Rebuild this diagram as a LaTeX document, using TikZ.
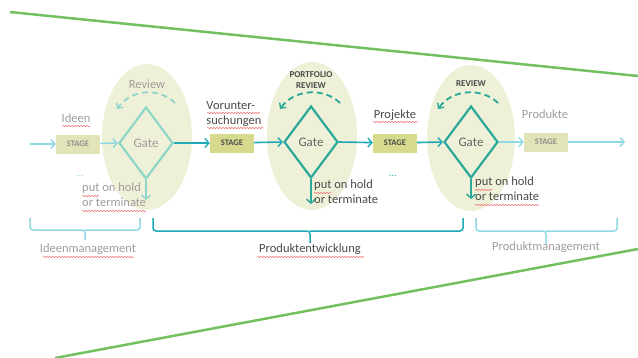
\documentclass[tikz,border=0pt]{standalone}
\usepackage{fontspec}
\setmainfont{Carlito}
\usetikzlibrary{shapes.geometric,arrows.meta,decorations.pathmorphing}
\definecolor{lcyan}{HTML}{8FD9E3}
\definecolor{tealc}{HTML}{1DA9B6}
\definecolor{tealg}{HTML}{2AA898}
\definecolor{lgate}{HTML}{8ED6C8}
\definecolor{grayt}{HTML}{A39C9C}
\definecolor{darkt}{HTML}{4A4A4A}
\definecolor{ellf}{HTML}{EFF0D8}
\definecolor{stl}{HTML}{E2E4B8}
\definecolor{std}{HTML}{D5DA8C}
\definecolor{grn}{HTML}{72C060}
\definecolor{spell}{HTML}{F07070}
\tikzset{
  x=1pt,y=-1pt,
  lbl/.style={font=\fontsize{12.5}{15}\selectfont,align=left,inner sep=0pt},
  ell/.style={ellipse,fill=ellf,minimum width=90pt,minimum height=146pt,inner sep=0pt},
  gatebox/.style={diamond,draw,line width=2.2pt,minimum width=54pt,minimum height=72pt,inner sep=0pt,aspect=0.75,font=\fontsize{13}{15}\selectfont},
  stagebox/.style={minimum width=44pt,minimum height=19pt,inner sep=0pt,font=\bfseries\fontsize{8.5}{10}\selectfont},
  arr/.style={line width=1.6pt,-{Straight Barb[length=4pt,width=9pt,line width=1.4pt]}},
  revarr/.style={line width=1.8pt,dash pattern=on 6pt off 4pt,-{Straight Barb[length=4pt,width=8pt,line width=1.4pt]}},
  brace/.style={line width=1.5pt,rounded corners=3pt},
  wavy/.style={spell,line width=0.5pt,decorate,decoration={snake,amplitude=0.7pt,segment length=3pt}},
}
\begin{document}
\begin{tikzpicture}
\useasboundingbox (0,0) rectangle (638,357);
% green lines
\draw[grn,line width=2.5pt] (10,12) -- (638,76);
\draw[grn,line width=2.5pt] (55,358) -- (638,249);
% ellipses
\node[ell] (e1) at (147,137) {};
\node[ell,minimum height=148pt] (e2) at (312,136) {};
\node[ell,minimum width=88pt] (e3) at (471,138) {};
% gates
\node[gatebox,draw=lgate,text=grayt] (g1) at (146,143) {Gate};
\node[gatebox,draw=tealg,text=darkt!85] (g2) at (311,142) {Gate};
\node[gatebox,draw=tealg,text=darkt!85] (g3) at (471,142) {Gate};
% stages
\node[stagebox,fill=stl,text=grayt!90!black] (s1) at (78,144) {STAGE};
\node[stagebox,fill=std,text=darkt] (s2) at (232,143) {STAGE};
\node[stagebox,fill=std,text=darkt] (s3) at (395,143) {STAGE};
\node[stagebox,fill=stl,text=grayt!90!black] (s4) at (546,142) {STAGE};
\coordinate (in) at (30,144);
\coordinate (out) at (625,142);
% flow arrows
\draw[arr,lcyan] (in) -- (s1);
\draw[arr,lcyan] (s1) -- (g1.west);
\draw[arr,tealc] (g1.east) -- (s2);
\draw[arr,tealc] (s2) -- (g2.west);
\draw[arr,tealc] (g2.east) -- (s3);
\draw[arr,tealc] (s3) -- (g3.west);
\draw[arr,lcyan] (g3.east) -- (s4);
\draw[arr,lcyan] (s4) -- (out);
% down arrows
\coordinate (d1) at (146,200);
\coordinate (d2) at (311,204);
\coordinate (d3) at (471,199);
\draw[arr,lgate] (g1.south) -- (d1);
\draw[arr,tealg] (g2.south) -- (d2);
\draw[arr,tealg] (g3.south) -- (d3);
% review arcs
\draw[revarr,lgate] (175,103) .. controls (160,88) and (132,88) .. (117,109);
\draw[revarr,tealg] (340,103) .. controls (325,88) and (295,88) .. (280,109);
\draw[revarr,tealg] (498,103) .. controls (483,88) and (453,88) .. (438,109);
% review labels
\node[lbl,text=grayt] (r1) at (147,84) {Review};
\node[font=\bfseries\fontsize{9}{11}\selectfont,align=center,text=darkt,inner sep=0pt] (r2) at (311,80) {PORTFOLIO\\REVIEW};
\node[font=\bfseries\fontsize{9}{11}\selectfont,text=darkt,inner sep=0pt] (r3) at (471,84) {REVIEW};
% stage labels
\node[lbl,text=grayt] (l1) at (76,118) {Ideen};
\node[lbl,text=darkt] (l2) at (234,114) {Vorunter-\\suchungen};
\node[lbl,text=darkt] (l3) at (395,115) {Projekte};
\node[lbl,text=grayt] (l4) at (545,114) {Produkte};
% dots
\node[font=\fontsize{10}{11}\selectfont,text=lcyan,inner sep=0pt] (dt1) at (80,176) {...};
\node[font=\fontsize{10}{11}\selectfont,text=tealc,inner sep=0pt] (dt2) at (393,176) {...};
% hold labels
\node[lbl,text=grayt,anchor=north west] (h1) at (82,183) {put on hold\\or terminate};
\node[lbl,text=darkt,anchor=north west] (h2) at (314,180) {put on hold\\or terminate};
\node[lbl,text=darkt,anchor=north west] (h3) at (475,177) {put on hold\\or terminate};
% braces
\draw[brace,lcyan] (30,218) |- (85,230) -- (85,240);
\draw[brace,lcyan] (140,218) |- (85,230);
\draw[brace,tealc] (153,218) |- (310,231) -- (310,243);
\draw[brace,tealc] (463,218) |- (310,231);
\draw[brace,lcyan] (476,218) |- (546,231) -- (546,245);
\draw[brace,lcyan] (617,218) |- (546,231);
% section labels
\node[lbl,text=grayt] (m1) at (88,249) {Ideenmanagement};
\node[lbl,text=darkt] (m2) at (310,249) {Produktentwicklung};
\node[lbl,text=grayt] (m3) at (546,247) {Produktmanagement};
% spell-check underlines
\draw[wavy] (62,126) -- (90,126);
\draw[wavy] (207,113) -- (260,113);
\draw[wavy] (207,128) -- (263,128);
\draw[wavy] (373,122) -- (418,122);
\draw[wavy] (82,196) -- (99,196);
\draw[wavy] (82,211) -- (146,211);
\draw[wavy] (314,193) -- (331,193);
\draw[wavy] (475,190) -- (492,190);
\draw[wavy] (475,205) -- (539,205);
\draw[wavy] (43,257) -- (134,257);
\draw[wavy] (257,257) -- (364,257);
\end{tikzpicture}
\end{document}
